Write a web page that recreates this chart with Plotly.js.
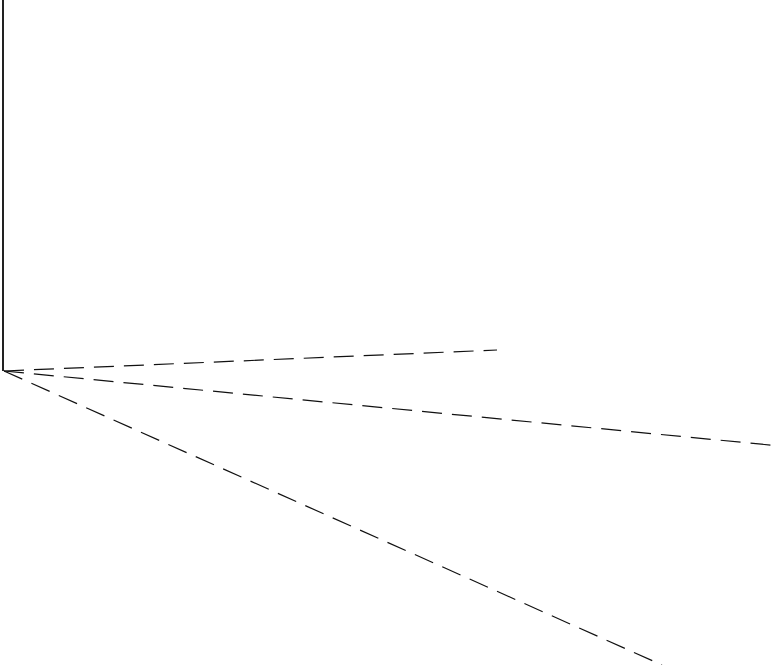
<!DOCTYPE html>
<html>
<head>
<meta charset="utf-8">
<script src="https://cdn.plot.ly/plotly-3.0.1.min.js"></script>
<style>
  html, body { margin: 0; padding: 0; background: #fff; }
  #chart { width: 780px; height: 665px; }
</style>
</head>
<body>
<div id="chart"></div>
<script>
// common start point of all strokes
const originX = [4];
const originY = [371];

// solid upright stroke
const stemX = [3, 3];
const stemY = [371, 0];

// dashed rays: end points
const rayEndX = [497, 780, 662];
const rayEndY = [350, 446, 665];

const traces = [{
  x: stemX,
  y: stemY,
  mode: 'lines',
  line: {color: '#222', width: 2},
  hoverinfo: 'skip',
  type: 'scatter'
}];

rayEndX.forEach((ex, i) => {
  traces.push({
    x: [originX[0], ex],
    y: [originY[0], rayEndY[i]],
    mode: 'lines',
    line: {color: '#111', width: 1.2, dash: '20px,10px'},
    hoverinfo: 'skip',
    type: 'scatter'
  });
});

const layout = {
  width: 780,
  height: 665,
  margin: {l: 0, r: 0, t: 0, b: 0},
  paper_bgcolor: '#fff',
  plot_bgcolor: '#fff',
  showlegend: false,
  xaxis: {range: [0, 780], visible: false, fixedrange: true},
  yaxis: {range: [665, 0], visible: false, fixedrange: true}
};

Plotly.newPlot('chart', traces, layout, {displayModeBar: false, staticPlot: true});
</script>
</body>
</html>
